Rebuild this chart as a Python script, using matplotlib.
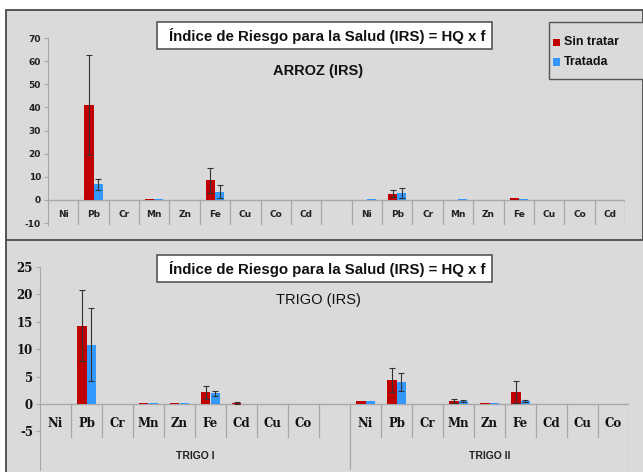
import matplotlib
matplotlib.use("Agg")
import matplotlib.pyplot as plt
from matplotlib.patches import Rectangle
import numpy as np

W, H = 643, 472
fig = plt.figure(figsize=(W / 100, H / 100), dpi=100)
fig.patch.set_facecolor("white")

# ---------------- data ----------------
arroz_cats = ["Ni", "Pb", "Cr", "Mn", "Zn", "Fe", "Cu", "Co", "Cd"]
arroz_sin_1 = [0.0, 41.0, 0.2, 0.5, 0.2, 8.6, 0.2, 0.0, 0.0]
arroz_sin_1_err = [0.0, 21.5, 0.0, 0.0, 0.0, 5.4, 0.0, 0.0, 0.0]
arroz_tra_1 = [0.0, 6.8, 0.1, 0.3, 0.2, 3.5, 0.0, 0.0, 0.0]
arroz_tra_1_err = [0.0, 2.3, 0.0, 0.0, 0.0, 2.8, 0.0, 0.0, 0.0]
arroz_sin_2 = [0.2, 2.8, 0.0, 0.2, 0.2, 0.8, 0.0, 0.0, 0.0]
arroz_sin_2_err = [0.0, 1.5, 0.0, 0.0, 0.0, 0.0, 0.0, 0.0, 0.0]
arroz_tra_2 = [0.5, 3.0, 0.0, 0.3, 0.2, 0.6, 0.0, 0.0, 0.0]
arroz_tra_2_err = [0.0, 2.0, 0.0, 0.0, 0.0, 0.0, 0.0, 0.0, 0.0]

trigo_cats = ["Ni", "Pb", "Cr", "Mn", "Zn", "Fe", "Cd", "Cu", "Co"]
trigo_groups = ["TRIGO I", "TRIGO II"]
trigo_sin_1 = [0.0, 14.3, 0.0, 0.1, 0.15, 2.1, 0.1, 0.0, 0.0]
trigo_sin_1_err = [0.0, 6.5, 0.0, 0.0, 0.0, 1.2, 0.2, 0.0, 0.0]
trigo_tra_1 = [0.0, 10.8, 0.0, 0.1, 0.15, 1.9, 0.0, 0.0, 0.0]
trigo_tra_1_err = [0.0, 6.7, 0.0, 0.0, 0.0, 0.4, 0.0, 0.0, 0.0]
trigo_sin_2 = [0.5, 4.4, 0.0, 0.5, 0.1, 2.2, 0.0, 0.0, 0.0]
trigo_sin_2_err = [0.0, 2.2, 0.0, 0.4, 0.0, 2.0, 0.0, 0.0, 0.0]
trigo_tra_2 = [0.5, 4.0, 0.0, 0.6, 0.1, 0.5, 0.0, 0.0, 0.0]
trigo_tra_2_err = [0.0, 1.7, 0.0, 0.2, 0.0, 0.2, 0.0, 0.0, 0.0]

series_names = ["Sin tratar", "Tratada"]
main_title = "Índice de Riesgo para la Salud (IRS) = HQ x f"
arroz_title = "ARROZ (IRS)"
trigo_title = "TRIGO (IRS)"
arroz_yticks = [-10, 0, 10, 20, 30, 40, 50, 60, 70]
trigo_yticks = [-5, 0, 5, 10, 15, 20, 25]

RED = "#c00000"
BLUE = "#3399ff"
BG = "#dadada"
GRID = "#a8a8a8"


def fx(px):
    return px / W


def fy(py):
    return 1 - py / H


def frect(x0, y0, x1, y1, **kw):
    """rectangle given in pixel coords (top-left origin)"""
    r = Rectangle((fx(x0), fy(y1)), fx(x1) - fx(x0), fy(y0) - fy(y1),
                  transform=fig.transFigure, **kw)
    fig.patches.append(r)
    return r


# ---------------- panel backgrounds ----------------
frect(6, 10, 643, 240, facecolor=BG, edgecolor="#555555", linewidth=1.4, zorder=-2)
frect(6, 240, 650, 480, facecolor=BG, edgecolor="#555555", linewidth=1.4, zorder=-2)


def axes_from_px(left, right, top, bottom):
    ax = fig.add_axes([fx(left), fy(bottom), fx(right) - fx(left), fy(top) - fy(bottom)])
    ax.set_zorder(2)
    ax.set_facecolor("none")
    return ax


bw = 0.3
n = len(arroz_cats)
x1 = np.arange(n)
x2 = np.arange(n) + n + 1
err_kw = dict(ecolor="#333333", elinewidth=0.8, capsize=2, capthick=0.8)


def draw_bars(ax, data):
    for xs, sv, se, tv, te in data:
        ax.bar(xs - bw / 2, sv, bw, color=RED, zorder=3)
        ax.bar(xs + bw / 2, tv, bw, color=BLUE, zorder=3)
        se_a = np.array(se)
        te_a = np.array(te)
        m = se_a > 0
        ax.errorbar((xs - bw / 2)[m], np.array(sv)[m], yerr=se_a[m], fmt="none", zorder=4, **err_kw)
        m = te_a > 0
        ax.errorbar((xs + bw / 2)[m], np.array(tv)[m], yerr=te_a[m], fmt="none", zorder=4, **err_kw)


# ---------------- top: ARROZ ----------------
ymin_top = -11
ax1 = axes_from_px(48, 625, 38, 200 + 11 * 2.3125)
ax1.set_xlim(-0.5, 2 * n + 0.5)
ax1.set_ylim(ymin_top, 70)
draw_bars(ax1, [(x1, arroz_sin_1, arroz_sin_1_err, arroz_tra_1, arroz_tra_1_err),
                (x2, arroz_sin_2, arroz_sin_2_err, arroz_tra_2, arroz_tra_2_err)])
ax1.axhline(0, color=GRID, lw=1, zorder=2)
for k in range(1, 2 * n + 2):
    ax1.plot([k - 0.5, k - 0.5], [0, -10.8], color=GRID, lw=0.9, zorder=2)
for xs in (x1, x2):
    for xi, lab in zip(xs, arroz_cats):
        ax1.text(xi, -6.3, lab, ha="center", va="center", fontsize=6.5,
                 fontweight="bold", color="#222222", family="DejaVu Sans")
ax1.set_xticks([])
ax1.set_yticks(arroz_yticks)
ax1.set_yticklabels([str(v) for v in arroz_yticks], fontsize=6.5, fontweight="bold",
                    color="#222222")
ax1.tick_params(axis="y", length=3, color=GRID, pad=2)
for s in ["top", "right", "bottom"]:
    ax1.spines[s].set_visible(False)
ax1.spines["left"].set_color(GRID)

# ---------------- bottom: TRIGO ----------------
sc = (431 - 267) / 30.0
ymin_bot = -12
ax2 = axes_from_px(40, 629, 267, 404 + 12 * sc)
ax2.set_xlim(-0.5, 2 * n + 0.5)
ax2.set_ylim(ymin_bot, 25)
draw_bars(ax2, [(x1, trigo_sin_1, trigo_sin_1_err, trigo_tra_1, trigo_tra_1_err),
                (x2, trigo_sin_2, trigo_sin_2_err, trigo_tra_2, trigo_tra_2_err)])
ax2.axhline(0, color=GRID, lw=1, zorder=2)
for k in range(1, 2 * n + 2):
    if k in (n + 1, 2 * n + 1):
        ax2.plot([k - 0.5, k - 0.5], [0, ymin_bot], color=GRID, lw=0.9, zorder=2)
    else:
        ax2.plot([k - 0.5, k - 0.5], [0, -6.1], color=GRID, lw=0.9, zorder=2)
for xs in (x1, x2):
    for xi, lab in zip(xs, trigo_cats):
        ax2.text(xi, -3.5, lab, ha="center", va="center", fontsize=8.5,
                 fontweight="heavy", color="#111111", family="DejaVu Serif")
ax2.text(np.mean(x1) + 0.5, -9.6, trigo_groups[0], ha="center", va="center",
         fontsize=7.5, fontweight="bold", color="#222222", family="Liberation Sans")
ax2.text(np.mean(x2), -9.6, trigo_groups[1], ha="center", va="center",
         fontsize=7.5, fontweight="bold", color="#222222", family="Liberation Sans")
ax2.set_xticks([])
ax2.set_yticks(trigo_yticks)
ax2.set_yticklabels([str(v) for v in trigo_yticks], fontsize=8.5, fontweight="heavy",
                    color="#111111", family="DejaVu Serif")
ax2.tick_params(axis="y", length=3, color=GRID, pad=2)
for s in ["top", "right", "bottom"]:
    ax2.spines[s].set_visible(False)
ax2.spines["left"].set_color(GRID)

# ---------------- titles ----------------
for (y0, y1) in [(22, 49), (255, 282)]:
    frect(157, y0, 492, y1, facecolor="white", edgecolor="#555555", linewidth=1.2, zorder=3)
    fig.text(fx(327), fy((y0 + y1) / 2 + 0.5), main_title, ha="center", va="center",
             fontsize=10.8, fontweight="bold", family="Liberation Sans", color="#111111",
             zorder=4)
fig.text(fx(318), fy(71), arroz_title, ha="center", va="center", fontsize=10.5,
         fontweight="bold", family="Liberation Sans", color="#111111")
fig.text(fx(318), fy(300), trigo_title, ha="center", va="center", fontsize=10.5,
         family="Liberation Sans", color="#111111")

# ---------------- legend ----------------
frect(549, 22, 648, 79, facecolor=BG, edgecolor="#555555", linewidth=1.0, zorder=3)
for i, (name, col) in enumerate(zip(series_names, [RED, BLUE])):
    yc = 42 + 20 * i
    frect(553, yc - 3.5, 560, yc + 3.5, facecolor=col, edgecolor="none", zorder=4)
    fig.text(fx(564), fy(yc), name, ha="left", va="center", fontsize=9,
             fontweight="bold", family="Liberation Sans", color="#111111", zorder=4)

fig.savefig("out.png", dpi=100)
